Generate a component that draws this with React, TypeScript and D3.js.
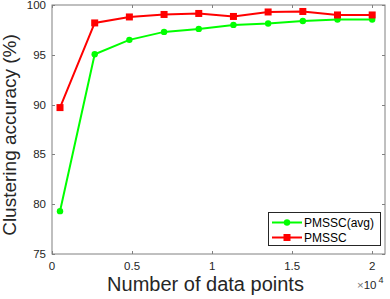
import { useEffect, useRef } from 'react';
import * as d3 from 'd3';

const xValues = [500, 2667, 4833, 7000, 9167, 11333, 13500, 15667, 17833, 20000];
const avgAcc = [79.3, 95.05, 96.5, 97.3, 97.6, 98.0, 98.15, 98.4, 98.55, 98.55];
const bestAcc = [89.7, 98.2, 98.8, 99.05, 99.15, 98.85, 99.3, 99.35, 99.0, 99.0];
const xTicks = [0, 5000, 10000, 15000, 20000];
const yTicks = [75, 80, 85, 90, 95, 100];
const seriesNames = ['PMSSC(avg)', 'PMSSC'];

const W = 390;
const H = 299;
const FONT = '"Liberation Sans", Arial, Helvetica, sans-serif';

export default function App() {
  const svgRef = useRef<SVGSVGElement>(null);

  useEffect(() => {
    if (!svgRef.current) return;
    const svg = d3.select(svgRef.current);
    svg.selectAll('*').remove();

    const box = { left: 52, top: 5, right: 385, bottom: 254 };
    const x = d3.scaleLinear().domain([0, 20800]).range([box.left, box.right]);
    const y = d3.scaleLinear().domain([75, 100]).range([box.bottom, box.top]);
    const axisCol = '#808080';
    const tickLen = 3;

    // axes box
    svg.append('rect')
      .attr('x', box.left).attr('y', box.top)
      .attr('width', box.right - box.left).attr('height', box.bottom - box.top)
      .attr('fill', 'none').attr('stroke', axisCol).attr('stroke-width', 1);

    // x ticks (bottom + top)
    xTicks.forEach((t) => {
      const px = Math.round(x(t)) + 0.5;
      svg.append('line').attr('x1', px).attr('x2', px)
        .attr('y1', box.bottom).attr('y2', box.bottom - tickLen).attr('stroke', axisCol);
      svg.append('line').attr('x1', px).attr('x2', px)
        .attr('y1', box.top).attr('y2', box.top + tickLen).attr('stroke', axisCol);
      svg.append('text')
        .attr('x', x(t)).attr('y', box.bottom + 16)
        .attr('text-anchor', 'middle').attr('font-size', 11.5).attr('fill', '#262626')
        .attr('font-family', FONT)
        .text(t / 10000);
    });

    // y ticks (left + right)
    yTicks.forEach((t) => {
      const py = Math.round(y(t)) + 0.5;
      svg.append('line').attr('x1', box.left).attr('x2', box.left + tickLen)
        .attr('y1', py).attr('y2', py).attr('stroke', axisCol);
      svg.append('line').attr('x1', box.right).attr('x2', box.right - tickLen)
        .attr('y1', py).attr('y2', py).attr('stroke', axisCol);
      svg.append('text')
        .attr('x', box.left - 6).attr('y', y(t) + 4)
        .attr('text-anchor', 'end').attr('font-size', 11.5).attr('fill', '#262626')
        .attr('font-family', FONT)
        .text(t);
    });

    // exponent label
    const expo = svg.append('text')
      .attr('x', 357).attr('y', 289)
      .attr('font-size', 11.5).attr('fill', '#262626').attr('font-family', FONT);
    expo.append('tspan').attr('fill', '#777').text('×');
    expo.append('tspan').text('10');
    expo.append('tspan').attr('dy', -6).attr('dx', 2).attr('font-size', 9).text('4');

    // axis titles
    svg.append('text')
      .attr('x', 205.5).attr('y', 291)
      .attr('text-anchor', 'middle').attr('font-size', 20).attr('fill', '#262626')
      .attr('font-family', FONT)
      .text('Number of data points');
    svg.append('text')
      .attr('transform', `translate(15.5,135) rotate(-90)`)
      .attr('text-anchor', 'middle').attr('font-size', 19).attr('fill', '#262626')
      .attr('font-family', FONT)
      .text('Clustering accuracy (%)');

    const line = d3.line<number>()
      .x((_, i) => x(xValues[i]))
      .y((d) => y(d));

    // green series (circles)
    svg.append('path').datum(avgAcc)
      .attr('d', line).attr('fill', 'none')
      .attr('stroke', '#00ff00').attr('stroke-width', 2);
    svg.selectAll('circle.avg').data(avgAcc).join('circle')
      .attr('class', 'avg')
      .attr('cx', (_, i) => x(xValues[i])).attr('cy', (d) => y(d))
      .attr('r', 3.2).attr('fill', '#00ff00');

    // red series (squares)
    svg.append('path').datum(bestAcc)
      .attr('d', line).attr('fill', 'none')
      .attr('stroke', '#ff0000').attr('stroke-width', 2);
    svg.selectAll('rect.best').data(bestAcc).join('rect')
      .attr('class', 'best')
      .attr('x', (_, i) => x(xValues[i]) - 3.5).attr('y', (d) => y(d) - 3.5)
      .attr('width', 7).attr('height', 7)
      .attr('fill', '#ff0000');

    // legend
    const lg = svg.append('g');
    lg.append('rect')
      .attr('x', 268.5).attr('y', 212.5).attr('width', 112).attr('height', 33)
      .attr('fill', '#fff').attr('stroke', '#262626').attr('stroke-width', 1);
    const colors = ['#00ff00', '#ff0000'];
    seriesNames.forEach((name, i) => {
      const ly = 222.5 + i * 15;
      lg.append('line').attr('x1', 272).attr('x2', 302).attr('y1', ly).attr('y2', ly)
        .attr('stroke', colors[i]).attr('stroke-width', 2);
      if (i === 0) {
        lg.append('circle').attr('cx', 287).attr('cy', ly).attr('r', 3.2).attr('fill', colors[i]);
      } else {
        lg.append('rect').attr('x', 283.5).attr('y', ly - 3.5).attr('width', 7).attr('height', 7)
          .attr('fill', colors[i]);
      }
      lg.append('text')
        .attr('x', 304).attr('y', ly + 4)
        .attr('font-size', 12).attr('fill', '#000').attr('font-family', FONT)
        .text(name);
    });
  }, []);

  return (
    <svg
      ref={svgRef}
      width={W}
      height={H}
      style={{ position: 'absolute', left: 0, top: 0, background: '#fff' }}
    />
  );
}
